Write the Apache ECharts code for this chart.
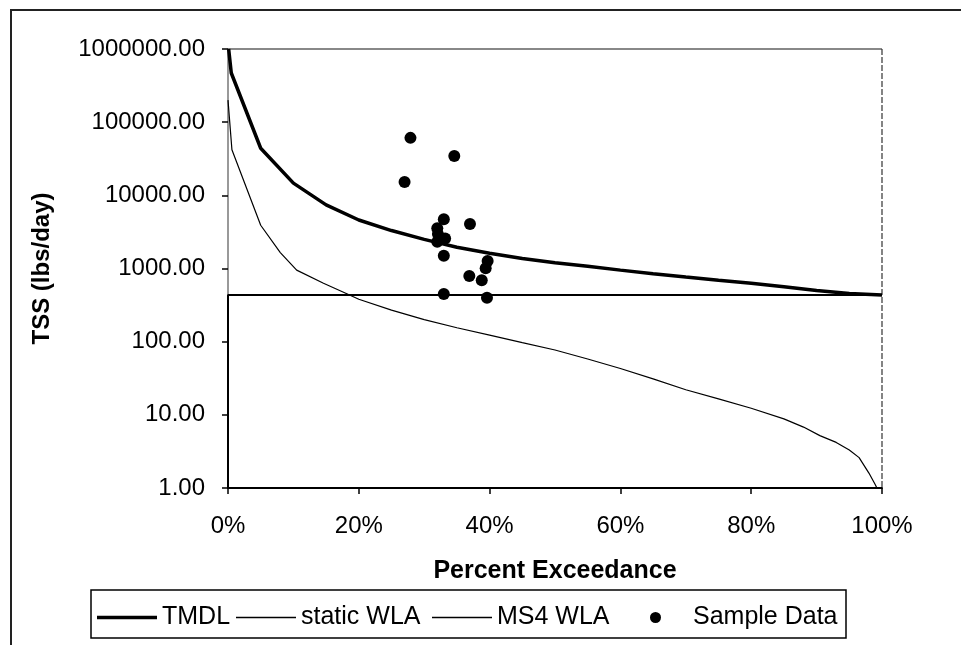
<!DOCTYPE html>
<html>
<head>
<meta charset="utf-8">
<script src="https://cdn.jsdelivr.net/npm/echarts@6/dist/echarts.min.js"></script>
<style>
html,body{margin:0;padding:0;background:#fff;}
#chart{width:961px;height:645px;}
</style>
</head>
<body>
<div id="chart"></div>
<script>
// ---- data ----
const xTickLabels = ['0%', '20%', '40%', '60%', '80%', '100%'];
const yTickLabels = ['1.00', '10.00', '100.00', '1000.00', '10000.00', '100000.00', '1000000.00'];

const tmdlPct = [0.001, 0.005, 0.05, 0.10, 0.15, 0.20, 0.25, 0.30, 0.35, 0.40, 0.45, 0.50, 0.55, 0.60, 0.65, 0.70, 0.75, 0.80, 0.85, 0.90, 0.95, 1.00];
const tmdlVal = [1000000, 470000, 44000, 14700, 7400, 4600, 3300, 2500, 1950, 1620, 1370, 1200, 1070, 950, 850, 765, 690, 630, 565, 500, 455, 433];

const staticPct = [0, 0, 1];
const staticVal = [0.1, 433, 433];

const ms4Pct = [0, 0.006, 0.05, 0.08, 0.105, 0.146, 0.18, 0.20, 0.25, 0.30, 0.35, 0.40, 0.45, 0.50, 0.55, 0.60, 0.65, 0.70, 0.75, 0.80, 0.85, 0.88, 0.905, 0.93, 0.95, 0.965, 0.98, 0.99, 1.00];
const ms4Val = [200000, 42000, 3900, 1650, 950, 630, 460, 380, 270, 200, 155, 123, 97, 77, 58, 43, 31, 22, 16.5, 12.3, 8.8, 6.8, 5.2, 4.2, 3.3, 2.6, 1.6, 1.1, 0.7];

const samplePct = [0.279, 0.346, 0.270, 0.330, 0.320, 0.321, 0.332, 0.320, 0.370, 0.330, 0.397, 0.394, 0.369, 0.388, 0.330, 0.396];
const sampleVal = [61000, 34600, 15200, 4700, 3560, 2950, 2570, 2320, 4050, 1490, 1270, 1005, 790, 690, 447, 398];

const seriesNames = ['TMDL', 'static WLA', 'MS4 WLA', 'Sample Data'];

// ---- build ----
const zip = (a, b) => a.map((v, i) => [v, b[i]]);
const FONT = "'Liberation Sans', Arial, sans-serif";

const G = {left: 228, right: 79, top: 49, bottom: 157};
const W = 961, H = 645;
const LEGEND_TOP = 605;

function legendItem(name, icon, left, itemWidth, itemHeight, textPad) {
  return {
    data: [{name: name, icon: icon}], left: left, top: LEGEND_TOP, orient: 'horizontal',
    itemWidth: itemWidth, itemHeight: itemHeight, padding: 0, itemGap: 0,
    textStyle: {fontFamily: FONT, fontSize: 25, color: '#000', padding: [0, 0, 0, textPad || 0]},
    selectedMode: false
  };
}

const chart = echarts.init(document.getElementById('chart'), null, {renderer: 'canvas'});
chart.setOption({
  backgroundColor: '#fff',
  animation: false,
  grid: {left: G.left, right: G.right, top: G.top, bottom: G.bottom, show: false, outerBoundsMode: 'none', containLabel: false},
  xAxis: {
    type: 'value', min: 0, max: 1, interval: 0.2,
    name: 'Percent Exceedance', nameLocation: 'middle', nameGap: 71,
    nameTextStyle: {fontFamily: FONT, fontSize: 25, fontWeight: 'bold', color: '#000'},
    axisLine: {show: true, lineStyle: {color: '#000', width: 2}},
    axisTick: {show: true, inside: false, length: 6, lineStyle: {color: '#000', width: 1.5}},
    axisLabel: {
      margin: 26, fontFamily: FONT, fontSize: 24, color: '#000',
      formatter: (v) => xTickLabels[Math.round(v * 5)]
    },
    splitLine: {show: false}
  },
  yAxis: {
    type: 'log', logBase: 10, min: 1, max: 1000000,
    name: 'TSS (lbs/day)', nameLocation: 'middle', nameGap: 174, nameRotate: 90,
    nameTextStyle: {fontFamily: FONT, fontSize: 24, fontWeight: 'bold', color: '#000'},
    axisLine: {show: true, lineStyle: {color: '#777', width: 1.5}},
    axisTick: {show: true, inside: false, length: 6, lineStyle: {color: '#000', width: 1.5}},
    axisLabel: {
      margin: 23, fontFamily: FONT, fontSize: 24, color: '#000',
      formatter: (v) => yTickLabels[Math.round(Math.log10(v))]
    },
    splitLine: {show: false}
  },
  legend: [
    legendItem(seriesNames[0], 'rect', 97, 60, 3.5),
    legendItem(seriesNames[1], 'rect', 236, 60, 1.5),
    legendItem(seriesNames[2], 'rect', 432, 60, 1.5),
    legendItem(seriesNames[3], 'circle', 650, 11, 11, 27)
  ],
  series: [
    {
      name: seriesNames[0], type: 'line', symbol: 'none', data: zip(tmdlPct, tmdlVal),
      lineStyle: {color: '#000', width: 3.5}, itemStyle: {color: '#000'}, z: 4
    },
    {
      name: seriesNames[1], type: 'line', symbol: 'none', data: zip(staticPct, staticVal),
      lineStyle: {color: '#000', width: 2}, itemStyle: {color: '#000'}, z: 3
    },
    {
      name: seriesNames[2], type: 'line', symbol: 'none', data: zip(ms4Pct, ms4Val),
      lineStyle: {color: '#000', width: 1.2}, itemStyle: {color: '#000'}, z: 3
    },
    {
      name: seriesNames[3], type: 'scatter', symbol: 'circle', symbolSize: 12,
      data: zip(samplePct, sampleVal), itemStyle: {color: '#000', opacity: 1}, z: 5
    }
  ],
  graphic: [
    // outer chart frame (top and left)
    {type: 'line', shape: {x1: 10, y1: 10, x2: W, y2: 10}, style: {stroke: '#222', lineWidth: 2}, silent: true},
    {type: 'line', shape: {x1: 11, y1: 10, x2: 11, y2: H}, style: {stroke: '#222', lineWidth: 2}, silent: true},
    // plot area top and right borders
    {type: 'line', shape: {x1: G.left, y1: G.top, x2: W - G.right, y2: G.top}, style: {stroke: '#888', lineWidth: 2}, silent: true},
    {type: 'line', shape: {x1: W - G.right, y1: G.top, x2: W - G.right, y2: H - G.bottom}, style: {stroke: '#333', lineWidth: 1.2, lineDash: [6, 2]}, silent: true},
    // legend box
    {type: 'rect', shape: {x: 91, y: 590, width: 755, height: 48}, style: {fill: 'none', stroke: '#000', lineWidth: 1.5}, z: -1, silent: true}
  ]
});
</script>
</body>
</html>
